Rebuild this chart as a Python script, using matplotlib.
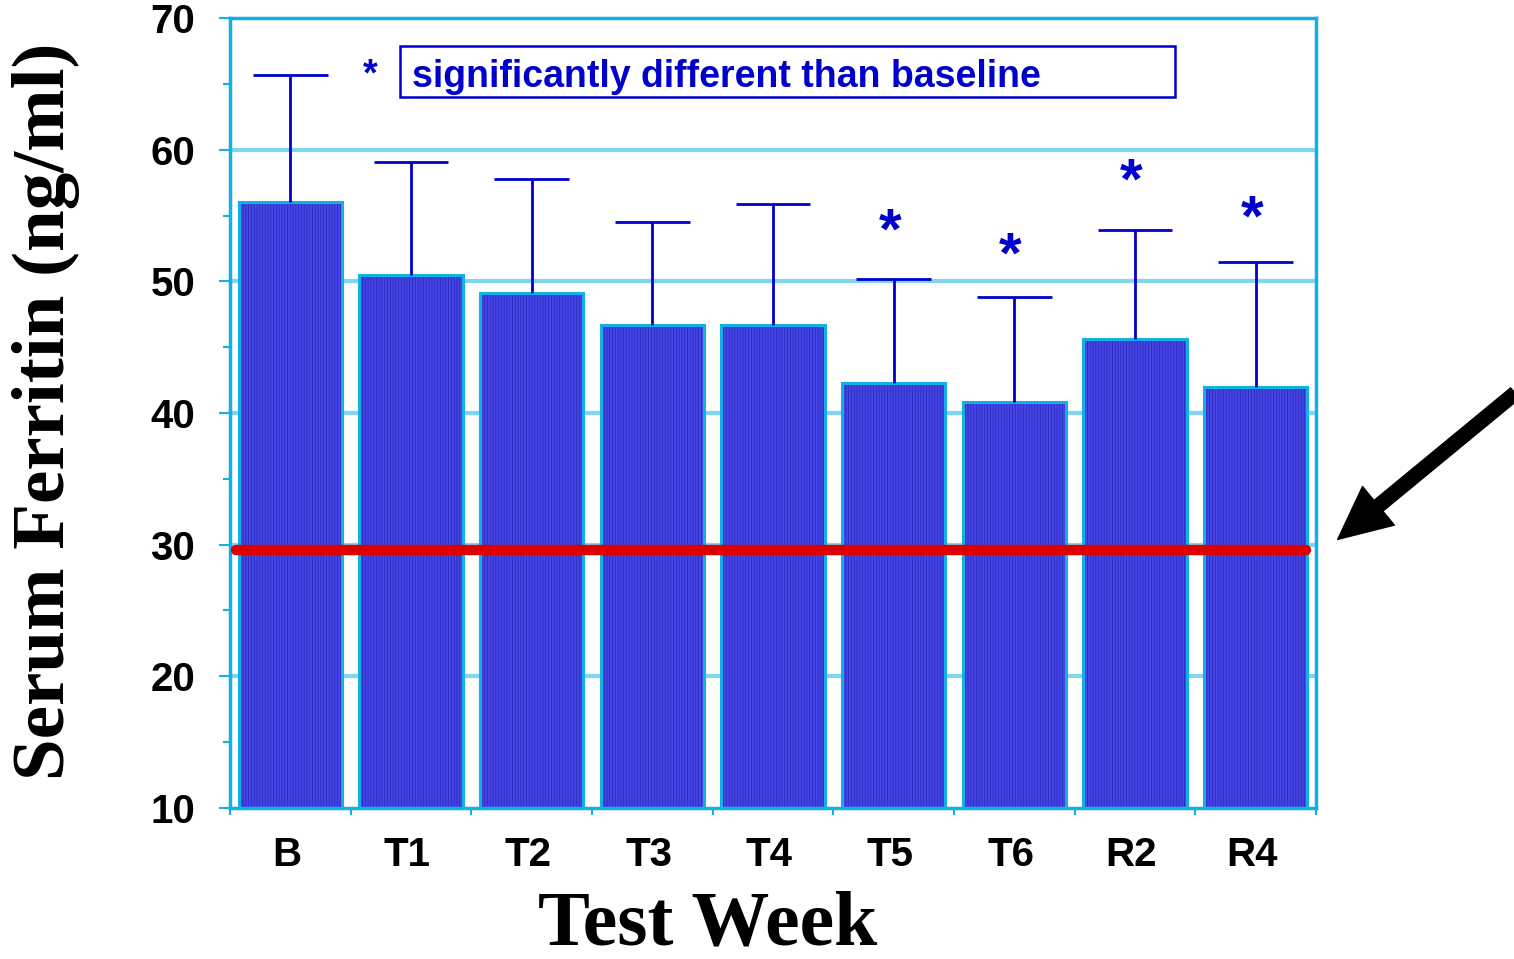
import matplotlib.pyplot as plt
from matplotlib.patches import Rectangle
from matplotlib.ticker import MultipleLocator

weeks = ["B", "T1", "T2", "T3", "T4", "T5", "T6", "R2", "R4"]
ferritin = [56.0, 50.5, 49.1, 46.7, 46.7, 42.3, 40.8, 45.6, 42.0]
err_up = [9.7, 8.6, 8.7, 7.8, 9.2, 7.9, 8.0, 8.3, 9.5]
signif = [False, False, False, False, False, True, True, True, True]
star_y = [0, 0, 0, 0, 0, 53.6, 51.8, 57.4, 54.6]
cutoff = 29.6

plt.rcParams['hatch.linewidth'] = 0.6

fig = plt.figure(figsize=(15.14, 9.59), dpi=100)
ax = fig.add_axes([0.1519, 0.1575, 0.7173, 0.8237])

cyan = '#12b0e6'
grid_c = '#80d6f2'
blue = '#0000cc'

x = [i + 0.5 for i in range(len(weeks))]

# grid lines behind bars
for g in [20, 30, 40, 50, 60]:
    ax.axhline(g, color=grid_c, lw=3, zorder=0)

ax.bar(x, [v - 10 for v in ferritin], bottom=10, width=0.855,
       color='#4646e8', edgecolor='#2a2ab8', hatch='||||||', lw=0, zorder=2)
ax.bar(x, [v - 10 for v in ferritin], bottom=10, width=0.855,
       fill=False, edgecolor=cyan, lw=2.2, zorder=3)

# upper error bars only
tops = [ferritin[i] + err_up[i] for i in range(len(x))]
ax.vlines(x, ferritin, tops, color=blue, lw=2, zorder=4)
ax.hlines(tops, [v - 0.31 for v in x], [v + 0.31 for v in x], color=blue, lw=2, zorder=4)

for i in range(len(x)):
    if signif[i]:
        ax.text(x[i] - 0.03, star_y[i], '*', color=blue, fontsize=42, fontweight='bold',
                family='Liberation Sans', ha='center', va='center', zorder=5)

# cut-off line
ax.plot([0.05, 8.92], [cutoff, cutoff], color='#dd0000', lw=7.5,
        solid_capstyle='round', zorder=6)

# legend note
ax.add_patch(Rectangle((1.409, 63.99), 6.42, 3.87, fill=False,
                       edgecolor=blue, lw=1.8, zorder=5))
ax.text(1.16, 65.6, '*', color=blue, fontsize=27, fontweight='bold',
        family='Liberation Sans', ha='center', va='center')
ax.text(1.508, 65.5, 'significantly different than baseline', color=blue,
        fontsize=27, fontweight='bold', family='Liberation Sans',
        ha='left', va='center')

# arrow pointing at cut-off
ax.annotate('', xy=(9.18, 30.4), xytext=(10.65, 41.5),
            arrowprops=dict(facecolor='black', edgecolor='black', width=10,
                            headwidth=36, headlength=38),
            annotation_clip=False)

ax.set_xlim(0, 9)
ax.set_ylim(10, 70)
ax.yaxis.set_major_locator(MultipleLocator(10))
ax.yaxis.set_minor_locator(MultipleLocator(5))
ax.set_xticks(range(10))
ax.set_xticklabels([])
ax.set_xticks([v - 0.03 for v in x], minor=True)
ax.set_xticklabels(weeks, minor=True)

for s in ax.spines.values():
    s.set_color(cyan)
    s.set_linewidth(2.5)

ax.tick_params(axis='y', which='both', direction='out', color=cyan, width=1.5)
ax.tick_params(axis='y', which='major', length=8, labelsize=29, pad=17)
ax.tick_params(axis='y', which='minor', length=5)
ax.tick_params(axis='x', which='major', direction='out', color=cyan, length=5, width=1.5)
ax.tick_params(axis='x', which='minor', length=0, labelsize=29, pad=20)
for lab in ax.get_yticklabels() + ax.get_xticklabels(minor=True):
    lab.set_fontweight('bold')
    lab.set_family('Liberation Sans')

ax.set_ylabel('Serum Ferritin (ng/ml)', fontsize=54, fontweight='bold',
              family='Liberation Serif')
ax.yaxis.set_label_coords(-0.138, 0.502)
ax.set_xlabel('Test Week', fontsize=56, fontweight='bold',
              family='Liberation Serif')
ax.xaxis.set_label_coords(0.44, -0.104)

fig.savefig('out.png', dpi=100)
